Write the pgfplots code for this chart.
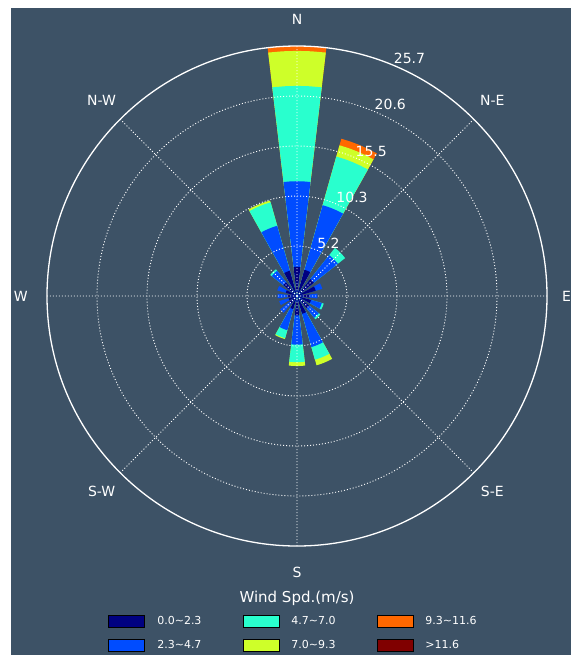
\documentclass[border=0pt]{standalone}
\usepackage{pgfplots}
\pgfplotsset{compat=1.18}
\usepgfplotslibrary{polar}
\usepackage{fontspec}
\setmainfont{DejaVu Sans}
\definecolor{bg}{RGB}{61,82,102}
\definecolor{c1}{RGB}{0,0,128}
\definecolor{c2}{RGB}{0,76,255}
\definecolor{c3}{RGB}{41,255,206}
\definecolor{c4}{RGB}{206,255,41}
\definecolor{c5}{RGB}{255,104,0}
\definecolor{c6}{RGB}{128,0,0}
% one wedge of a wind-rose bar: compass direction, cumulative value, colour
\newcommand\seg[3]{%
  \pgfmathsetmacro\ac{90-#1}%
  \pgfmathsetmacro\al{\ac-6.75}%
  \pgfmathsetmacro\am{\ac-3.4}%
  \pgfmathsetmacro\an{\ac+3.4}%
  \pgfmathsetmacro\ar{\ac+6.75}%
  \edef\temp{\noexpand\addplot[forget plot, fill=#3, draw=none] coordinates {(0,0) (\al,#2) (\am,#2) (\ac,#2) (\an,#2) (\ar,#2) (0,0)};}%
  \temp}
\begin{document}
\begin{tikzpicture}
\fill[white] (0pt,0pt) rectangle (571pt,-655pt);
\fill[bg] (11pt,-8pt) rectangle (571pt,-655pt);
\path[use as bounding box] (0pt,0pt) rectangle (571pt,-655pt);
\begin{polaraxis}[
  at={(297pt,-296pt)}, anchor=center,
  scale only axis, width=500pt, height=500pt,
  ymin=0, ymax=25.7,
  xtick={0,45,...,315}, xticklabels={},
  ytick={5.14,10.28,15.42,20.56}, yticklabels={},
  grid=major,
  major grid style={white, dash pattern=on 1pt off 2pt, line width=0.9pt},
  axis line style={white, line width=1.3pt},
  y axis line style={draw=none},
  major tick length=0pt,
  axis on top,
  clip=false,
  legend columns=3,
  legend style={at={(0.492,-0.134)}, anchor=north, draw=none, fill=none,
    text=white, font=\fontsize{11}{13}\selectfont,
    row sep=11pt,
    nodes={inner sep=1pt},
    /tikz/every odd column/.append style={column sep=11pt},
    /tikz/every even column/.append style={column sep=40pt}},
  legend cell align=left,
  legend image code/.code={\draw[#1, draw=black, line width=0.8pt] (0pt,-6pt) rectangle (36pt,6pt);},
]
% N
\seg{0}{25.7}{c5}\seg{0}{25.2}{c4}\seg{0}{21.6}{c3}\seg{0}{11.8}{c2}\seg{0}{3.0}{c1}
% NNE
\seg{22.5}{16.8}{c5}\seg{22.5}{16.1}{c4}\seg{22.5}{14.9}{c3}\seg{22.5}{9.7}{c2}\seg{22.5}{2.8}{c1}
% NE
\seg{45}{6.3}{c3}\seg{45}{5.35}{c2}\seg{45}{2.2}{c1}
% ENE
\seg{67.5}{2.7}{c2}\seg{67.5}{2.0}{c1}
% E
\seg{90}{2.1}{c2}\seg{90}{1.3}{c1}
% ESE
\seg{112.5}{2.85}{c3}\seg{112.5}{2.65}{c2}\seg{112.5}{1.5}{c1}
% SE
\seg{135}{3.05}{c3}\seg{135}{2.85}{c2}\seg{135}{1.6}{c1}
% SSE
\seg{157.5}{7.4}{c4}\seg{157.5}{6.8}{c3}\seg{157.5}{5.45}{c2}\seg{157.5}{1.9}{c1}
% S
\seg{180}{7.2}{c4}\seg{180}{6.8}{c3}\seg{180}{5.0}{c2}\seg{180}{2.0}{c1}
% SSW
\seg{202.5}{4.6}{c4}\seg{202.5}{4.5}{c3}\seg{202.5}{3.65}{c2}\seg{202.5}{1.4}{c1}
% SW
\seg{225}{2.2}{c2}\seg{225}{1.0}{c1}
% WSW
\seg{247.5}{1.9}{c2}\seg{247.5}{0.9}{c1}
% W
\seg{270}{2.0}{c2}\seg{270}{1.0}{c1}
% WNW
\seg{292.5}{2.1}{c2}\seg{292.5}{1.2}{c1}
% NW
\seg{315}{3.5}{c3}\seg{315}{3.3}{c2}\seg{315}{1.8}{c1}
% NNW
\seg{337.5}{10.2}{c4}\seg{337.5}{10.0}{c3}\seg{337.5}{7.5}{c2}\seg{337.5}{2.7}{c1}
% legend (row-wise order)
\addlegendimage{fill=c1}\addlegendentry{0.0\textasciitilde2.3}
\addlegendimage{fill=c3}\addlegendentry{4.7\textasciitilde7.0}
\addlegendimage{fill=c5}\addlegendentry{9.3\textasciitilde11.6}
\addlegendimage{fill=c2}\addlegendentry{2.3\textasciitilde4.7}
\addlegendimage{fill=c4}\addlegendentry{7.0\textasciitilde9.3}
\addlegendimage{fill=c6}\addlegendentry{>11.6}
% direction labels
\begin{scope}[every node/.style={text=white, font=\fontsize{14}{16}\selectfont}]
\node at (axis cs:90,28.4) {N};
\node at (axis cs:45,28.4) {N-E};
\node at (axis cs:0,27.7) {E};
\node at (axis cs:315,28.4) {S-E};
\node at (axis cs:270,28.4) {S};
\node at (axis cs:225,28.4) {S-W};
\node at (axis cs:180,28.4) {W};
\node at (axis cs:135,28.4) {N-W};
\end{scope}
\begin{scope}[every node/.style={text=white, font=\fontsize{14}{16}\selectfont, anchor=south west, inner sep=1pt}]
\node at (axis cs:67.5,5.14) {5.2};
\node at (axis cs:67.5,10.28) {10.3};
\node at (axis cs:67.5,15.42) {15.5};
\node at (axis cs:67.5,20.56) {20.6};
\node at (axis cs:67.5,25.7) {25.7};
\end{scope}
\node[text=white, font=\fontsize{15}{17}\selectfont] at (axis description cs:0.5,-0.104) {Wind Spd.(m/s)};
\end{polaraxis}
\end{tikzpicture}
\end{document}
